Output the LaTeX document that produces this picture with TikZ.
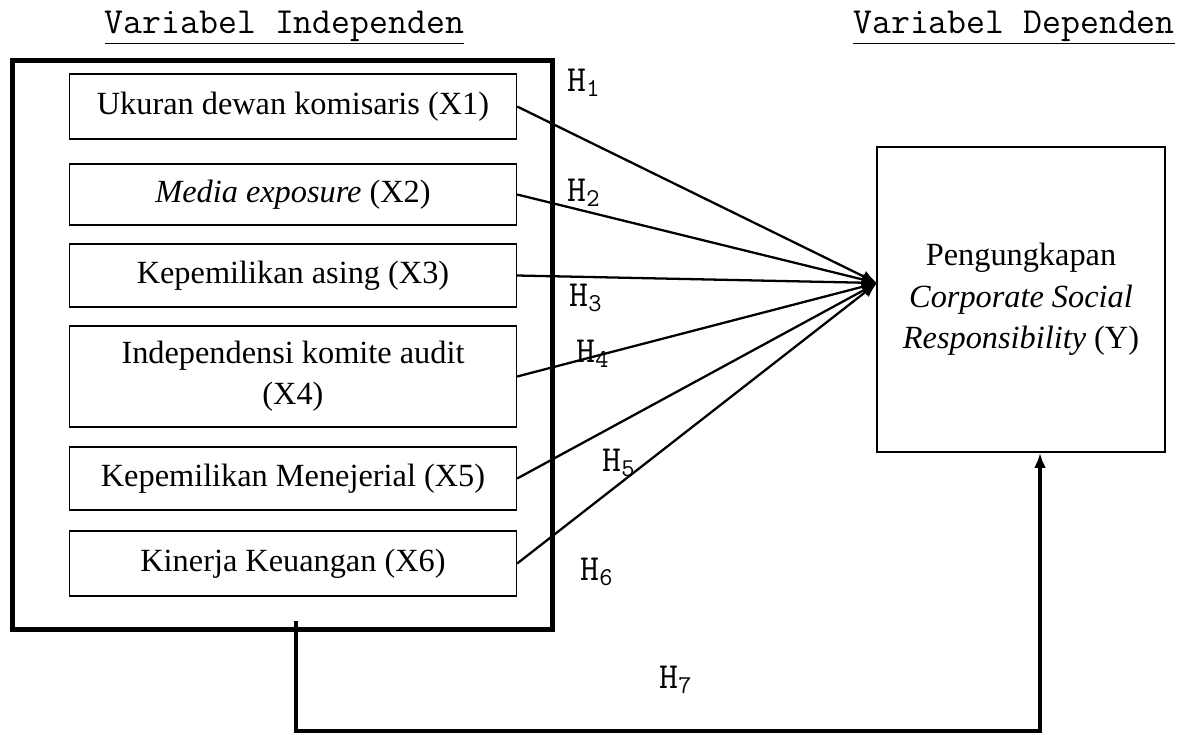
\documentclass[tikz,border=0pt]{standalone}
\usepackage{fontspec}
\setmainfont{Liberation Serif}
\usetikzlibrary{arrows.meta}

\begin{document}
\begin{tikzpicture}[
        x=0.02cm, y=-0.02cm,
        every node/.style={font=\fontsize{18.4}{23.5}\selectfont},
        varbox/.style={draw, line width=0.8pt, minimum width=8.94cm, align=center, inner sep=2pt},
        groupbox/.style={draw, line width=2.8pt, minimum width=10.82cm, minimum height=11.4cm},
        ybox/.style={draw, line width=1.1pt, minimum width=5.76cm, minimum height=6.1cm, align=center},
        heading/.style={font=\fontsize{20.9}{24}\selectfont\ttfamily, anchor=base},
        hlabel/.style={font=\fontsize{20.9}{24}\selectfont\ttfamily},
        hyp/.style={-{Latex[length=0.3cm,width=0.24cm]}, line width=1.3pt},
        feedback/.style={-{Latex[length=0.3cm,width=0.24cm]}, line width=2pt}
    ]

    % ukuran gambar
    \useasboundingbox (0,0) rectangle (1183,734);

    % judul kolom
    \node[heading] (hind) at (284.5,33) {\underline{Variabel Independen}};
    \node[heading] (hdep) at (1014,33) {\underline{Variabel Dependen}};

    % kotak besar variabel independen
    \node[groupbox] (indep) at (282.5,345) {};

    % variabel X1 ... X6
    \node[varbox, minimum height=1.3cm]  (x1) at (293,106.5) {Ukuran dewan komisaris (X1)};
    \node[varbox, minimum height=1.22cm] (x2) at (293,194.5) {\textit{Media exposure} (X2)};
    \node[varbox, minimum height=1.26cm] (x3) at (293,275.5) {Kepemilikan asing (X3)};
    \node[varbox, minimum height=2.02cm] (x4) at (293,376.5) {Independensi komite audit\\(X4)};
    \node[varbox, minimum height=1.26cm] (x5) at (293,478.5) {Kepemilikan Menejerial (X5)};
    \node[varbox, minimum height=1.3cm]  (x6) at (293,563.5) {Kinerja Keuangan (X6)};

    % variabel dependen Y
    \node[ybox] (Y) at (1021,299.5) {Pengungkapan\\\textit{Corporate Social}\\\textit{Responsibility} (Y)};
    \coordinate (tip) at (877,283);

    % panah H1 ... H6
    \foreach \i in {1,...,6}
        \draw[hyp] (x\i.east) -- (tip);

    \foreach \i/\px/\py in {1/584/83, 2/584/193, 3/586/298, 4/593/354, 5/619/463, 6/597/572, 7/676/680}
        \node[hlabel] (h\i) at (\px,\py) {H\textsubscript{\i}};

    % panah H7 (simultan)
    \coordinate (h7a) at (296,621);
    \coordinate (h7b) at (1040,731);
    \draw[feedback] (h7a) |- (h7b) -- (h7b |- Y.south);

\end{tikzpicture}
\end{document}
